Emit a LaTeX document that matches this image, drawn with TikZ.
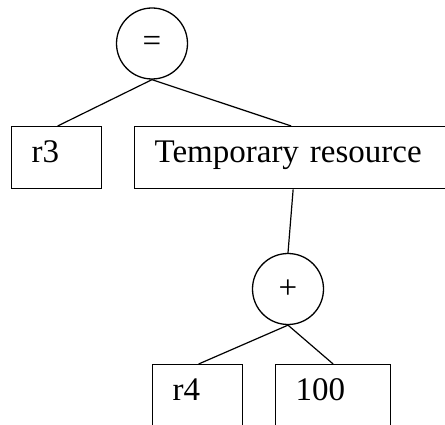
\documentclass[tikz,border=0pt]{standalone}
\usepackage{fontspec}
\setmainfont{Liberation Serif}
\begin{document}
\begin{tikzpicture}[x=1pt,y=-1pt,
  every node/.style={font=\fontsize{33}{40}\selectfont},
  opnode/.style={draw, circle, line width=1.3pt, inner sep=0pt, minimum size=71pt},
  leafbox/.style={draw, rectangle, line width=1.3pt, anchor=north west,
    inner xsep=20pt, inner ysep=0pt, minimum height=62pt, align=left,
    text height=1.1em, text depth=0.04em},
  edge/.style={line width=1.2pt}]
  \useasboundingbox (0,0) rectangle (445,425);
  \clip (0,0) rectangle (445,425);

  % operator nodes
  \node[opnode] (eq) at (152,43.5) {\raisebox{-2pt}{=}};
  \node[opnode] (plus) at (288,289) {\raisebox{-2pt}{+}};

  % operand boxes
  \node[leafbox, text width=50pt] (r3) at (11,126) {r3};
  \node[leafbox, text width=273pt] (tmp) at (134,126) {\mbox{Temporary resource}};
  \node[leafbox, text width=50pt] (r4) at (152,364) {r4};
  \node[leafbox, text width=75pt] (hundred) at (275,364) {100};

  % tree edges
  \draw[edge] (eq.south) -- ([xshift=1pt]r3.north);
  \draw[edge] (eq.south) -- (tmp.north);
  \draw[edge] ([xshift=2pt]tmp.south) -- (plus.north);
  \draw[edge] (plus.south) -- ([xshift=1pt]r4.north);
  \draw[edge] (plus.south) -- (hundred.north);
\end{tikzpicture}
\end{document}
